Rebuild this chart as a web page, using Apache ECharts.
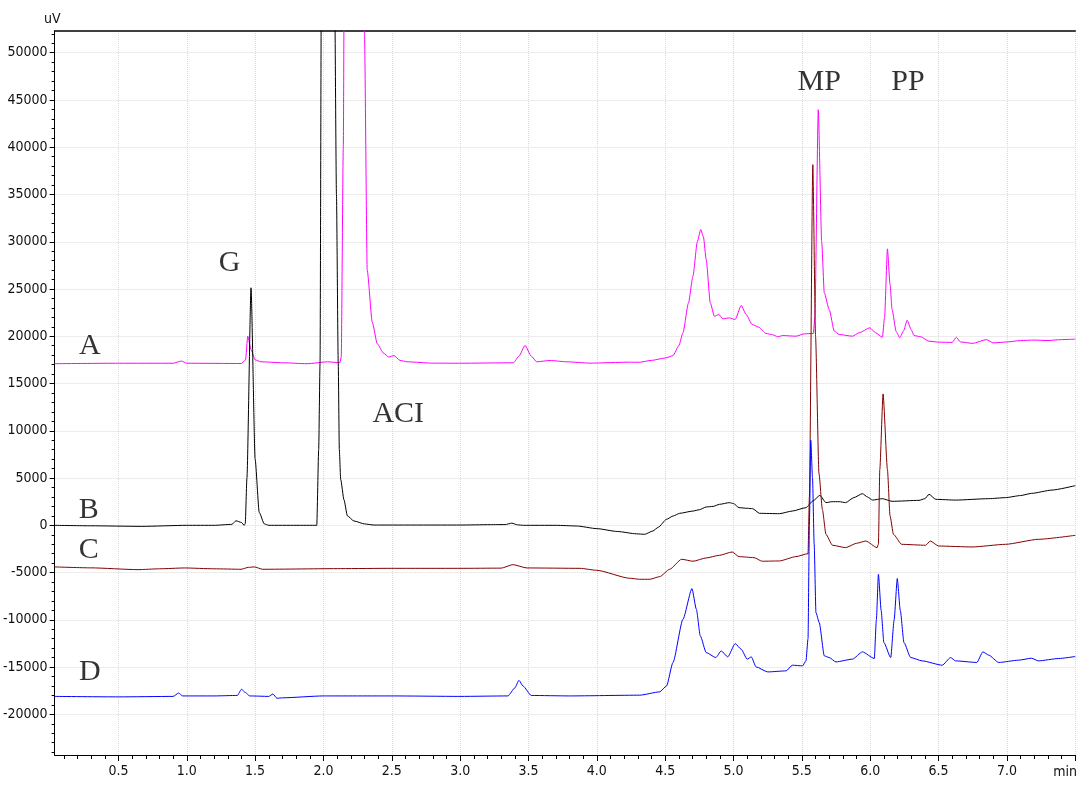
<!DOCTYPE html>
<html>
<head>
<meta charset="utf-8">
<script src="https://cdn.jsdelivr.net/npm/echarts@6/dist/echarts.min.js"></script>
<style>
html,body{margin:0;padding:0;background:#fff;}
#chart{width:1080px;height:787px;}
</style>
</head>
<body>
<div id="chart"></div>
<script>
// ---- Trace A (magenta) ----
const timeA = [0.033,0.5,0.90,0.96,1.00,1.40,1.43,1.446,1.47,1.50,1.543,1.70,1.88,2.03,2.12,2.13,2.145,2.16,2.22,2.28,2.30,2.32,2.357,2.394,2.44,2.478,2.515,2.56,2.613,2.80,3.00,3.39,3.43,3.475,3.52,3.56,3.658,3.78,3.95,4.24,4.31,4.40,4.50,4.557,4.60,4.63,4.67,4.703,4.735,4.76,4.78,4.80,4.83,4.86,4.893,4.922,4.97,5.012,5.056,5.093,5.136,5.185,5.238,5.287,5.323,5.36,5.457,5.518,5.584,5.595,5.62,5.645,5.664,5.70,5.737,5.773,5.87,5.919,5.997,6.04,6.089,6.105,6.126,6.145,6.16,6.19,6.216,6.245,6.27,6.30,6.32,6.37,6.43,6.50,6.60,6.63,6.66,6.75,6.85,6.90,7.00,7.10,7.20,7.30,7.40,7.50];
const valA  = [17100,17150,17150,17380,17150,17120,17500,20010,18600,17500,17300,17200,17100,17300,17200,17800,40000,90000,160000,90000,52000,27000,21500,19200,18200,17800,17970,17450,17300,17160,17150,17200,17900,19030,17900,17300,17440,17300,17160,17260,17250,17450,17700,17950,19000,20370,23500,26350,30000,31290,30500,28120,23540,22120,22300,21850,21950,21780,23260,22300,21250,20960,20300,20160,19950,20080,20010,20260,20300,22000,43970,30000,24600,22830,20540,20190,20010,20370,20900,20370,19900,22000,29250,25500,22830,20500,19840,20600,21700,20700,20080,19950,19480,19380,19350,19900,19400,19250,19650,19300,19400,19550,19600,19550,19650,19700];

// ---- Trace B (black) ----
const timeB = [0.033,0.30,0.67,1.00,1.20,1.33,1.36,1.40,1.42,1.428,1.44,1.47,1.50,1.53,1.567,1.60,1.80,1.951,1.965,1.975,1.985,2.04,2.08,2.095,2.108,2.116,2.126,2.15,2.175,2.223,2.30,2.37,3.00,3.22,3.33,3.378,3.42,3.463,3.70,3.853,4.00,4.15,4.29,4.35,4.41,4.45,4.509,4.56,4.606,4.703,4.75,4.80,4.85,4.897,4.97,5.00,5.04,5.10,5.14,5.19,5.335,5.43,5.53,5.58,5.632,5.676,5.72,5.773,5.82,5.88,5.943,5.98,6.016,6.089,6.16,6.357,6.40,6.43,6.48,6.624,6.868,6.99,7.10,7.18,7.33,7.50];
const valB  = [0,-50,-110,0,0,100,480,300,0,200,5000,25130,7000,1370,150,0,0,0,8000,17200,60000,200000,60000,35000,17200,8000,4860,2700,1000,460,150,30,30,70,80,230,50,0,0,-70,-350,-650,-900,-950,-600,-200,630,1000,1270,1510,1650,1940,2000,2220,2400,2300,1870,1800,1760,1270,1230,1510,1870,2570,3170,2400,2500,2500,2400,2930,3350,3000,2670,2820,2540,2640,2820,3280,2750,2670,2820,2930,3150,3380,3730,4200];

// ---- Trace C (dark red) ----
const timeC = [0.033,0.30,0.643,0.80,0.983,1.20,1.397,1.45,1.494,1.555,2.126,2.50,3.00,3.30,3.386,3.488,3.877,4.00,4.24,4.314,4.387,4.46,4.533,4.62,4.703,4.80,4.897,4.99,5.04,5.15,5.21,5.335,5.457,5.545,5.555,5.58,5.60,5.625,5.65,5.676,5.724,5.82,5.90,5.968,6.05,6.06,6.07,6.094,6.126,6.145,6.17,6.23,6.405,6.44,6.50,6.745,6.99,7.23,7.50];
const valC  = [-4400,-4500,-4690,-4600,-4510,-4600,-4650,-4450,-4400,-4650,-4580,-4550,-4550,-4530,-4160,-4510,-4550,-4760,-5600,-5710,-5710,-5430,-4650,-3590,-3800,-3450,-3170,-2820,-3310,-3420,-3800,-3770,-3310,-3000,3000,38160,20000,5500,1690,-950,-2110,-2360,-1900,-1660,-2360,-2000,5900,13900,5900,1000,-950,-2010,-2110,-1660,-2190,-2290,-2010,-1480,-1060];

// ---- Trace D (blue) ----
const timeD = [0.033,0.50,0.90,0.94,0.97,1.20,1.37,1.40,1.43,1.46,1.60,1.63,1.66,1.70,2.00,2.50,3.00,3.35,3.40,3.43,3.46,3.52,3.80,4.314,4.46,4.51,4.557,4.63,4.696,4.728,4.757,4.80,4.87,4.91,4.958,5.012,5.056,5.10,5.13,5.165,5.25,5.385,5.43,5.505,5.53,5.545,5.555,5.565,5.578,5.59,5.603,5.627,5.664,5.70,5.749,5.87,5.943,6.03,6.045,6.06,6.08,6.10,6.15,6.175,6.198,6.22,6.247,6.296,6.38,6.527,6.588,6.624,6.78,6.824,6.868,6.94,7.085,7.18,7.23,7.38,7.50];
const valD  = [-18100,-18150,-18100,-17750,-18050,-18050,-18000,-17350,-17700,-18050,-18100,-17850,-18300,-18250,-18050,-18050,-18100,-18050,-17200,-16400,-17000,-18000,-18050,-17970,-17620,-16990,-14510,-9940,-6690,-8880,-11700,-13460,-13990,-13290,-13920,-12510,-13110,-14160,-13920,-14980,-15510,-15400,-14800,-14870,-14340,-12000,0,9000,5000,-2000,-9230,-10290,-13810,-13990,-14450,-14160,-13390,-14090,-10000,-5180,-9000,-12400,-13990,-10000,-5630,-9000,-12400,-13990,-14340,-14800,-13990,-14340,-14510,-13390,-13740,-14510,-14270,-14060,-14340,-14090,-13880];

// ---- Annotations ----
const noteText = ['G','ACI','MP','PP','A','B','C','D'];
const noteT    = [1.314,2.547,5.627,6.276,0.29,0.283,0.283,0.29];
const noteV    = [27710,11730,46860,46860,18950,1620,-2610,-15570];

// ---- Axis ticks / labels ----
const xLabelValues = [0.5,1.0,1.5,2.0,2.5,3.0,3.5,4.0,4.5,5.0,5.5,6.0,6.5,7.0];
const xMajorTicks  = [0.5,1.0,1.5,2.0,2.5,3.0,3.5,4.0,4.5,5.0,5.5,6.0,6.5,7.0,7.5];
const yLabelValues = [-20000,-15000,-10000,-5000,0,5000,10000,15000,20000,25000,30000,35000,40000,45000,50000];
const X_MIN = 0.033, X_MAX = 7.5, Y_MIN = -24300, Y_MAX = 52300;

const xMinorTicks = [];
for (let i = 1; i <= 74; i++) { if (i % 5 !== 0) xMinorTicks.push(i / 10); }
const yMinorTicks = [];
for (let v = -24000; v <= 52000; v += 1000) { if (v % 5000 !== 0) yMinorTicks.push(v); }

function zip(t, v) { return t.map((x, i) => [x, v[i]]); }

const tickFont = "'Liberation Sans Narrow','Arial Narrow','DejaVu Sans Condensed',sans-serif";
const gridLine = { show: true, lineStyle: { color: '#d9d9d9', type: 'dotted', width: 1 } };

const chart = echarts.init(document.getElementById('chart'), null, { renderer: 'canvas' });

function lineSeries(name, t, v, color) {
  return {
    name: name, type: 'line', data: zip(t, v), showSymbol: false, symbol: 'none',
    smooth: 0.2, smoothMonotone: 'x', sampling: null, clip: true, animation: false,
    lineStyle: { color: color, width: 1 }, itemStyle: { color: color }
  };
}

chart.setOption({
  animation: false,
  backgroundColor: '#ffffff',
  grid: { left: 53, right: 3, top: 31, bottom: 32, containLabel: false },
  xAxis: [
    {
      type: 'value', min: X_MIN, max: X_MAX, position: 'bottom',
      axisLine: { show: true, onZero: false, lineStyle: { color: '#000', width: 1 } },
      axisTick: { show: true, inside: false, length: 6, customValues: xMajorTicks, lineStyle: { color: '#000' } },
      axisLabel: { show: true, customValues: xLabelValues, margin: 9, color: '#111', fontSize: 14, fontFamily: tickFont,
                   formatter: v => Number(v).toFixed(1) },
      splitLine: gridLine,
      name: 'min', nameLocation: 'end', nameGap: -22,
      nameTextStyle: { color: '#111', fontSize: 14, fontFamily: tickFont, align: 'left', verticalAlign: 'top', padding: [10, 0, 0, 0] }
    },
    {
      type: 'value', min: X_MIN, max: X_MAX, position: 'bottom',
      axisLine: { show: false, onZero: false },
      axisTick: { show: true, inside: false, length: 4, customValues: xMinorTicks, lineStyle: { color: '#000' } },
      axisLabel: { show: false }, splitLine: { show: false }
    },
    {
      type: 'value', min: X_MIN, max: X_MAX, position: 'top',
      axisLine: { show: true, onZero: false, lineStyle: { color: '#000', width: 1.5 } },
      axisTick: { show: false }, axisLabel: { show: false }, splitLine: { show: false }
    }
  ],
  yAxis: [
    {
      type: 'value', min: Y_MIN, max: Y_MAX, position: 'left',
      axisLine: { show: true, onZero: false, lineStyle: { color: '#000', width: 1 } },
      axisTick: { show: true, inside: false, length: 5, customValues: yLabelValues, lineStyle: { color: '#000' } },
      axisLabel: { show: true, customValues: yLabelValues, margin: 7, color: '#111', fontSize: 14, fontFamily: tickFont,
                   formatter: v => String(Math.round(v)) },
      splitLine: gridLine,
      name: 'uV', nameLocation: 'end', nameGap: 5,
      nameTextStyle: { color: '#111', fontSize: 14, fontFamily: tickFont, align: 'right', padding: [0, -6, 0, 0] }
    },
    {
      type: 'value', min: Y_MIN, max: Y_MAX, position: 'left',
      axisLine: { show: false, onZero: false },
      axisTick: { show: true, inside: false, length: 3, customValues: yMinorTicks, lineStyle: { color: '#000' } },
      axisLabel: { show: false }, splitLine: { show: false }
    }
  ],
  series: [
    lineSeries('A', timeA, valA, '#ff00ff'),
    lineSeries('B', timeB, valB, '#000000'),
    lineSeries('C', timeC, valC, '#800000'),
    lineSeries('D', timeD, valD, '#0000ff'),
    {
      type: 'scatter', name: 'notes', symbolSize: 1, silent: true, animation: false,
      itemStyle: { color: 'rgba(0,0,0,0)' },
      data: noteT.map((t, i) => ({ value: [t, noteV[i]], name: noteText[i] })),
      label: { show: true, position: 'inside', formatter: p => p.name, color: '#000',
               fontSize: 30, fontFamily: "'Liberation Serif','Times New Roman',serif" }
    }
  ]
});
</script>
</body>
</html>
